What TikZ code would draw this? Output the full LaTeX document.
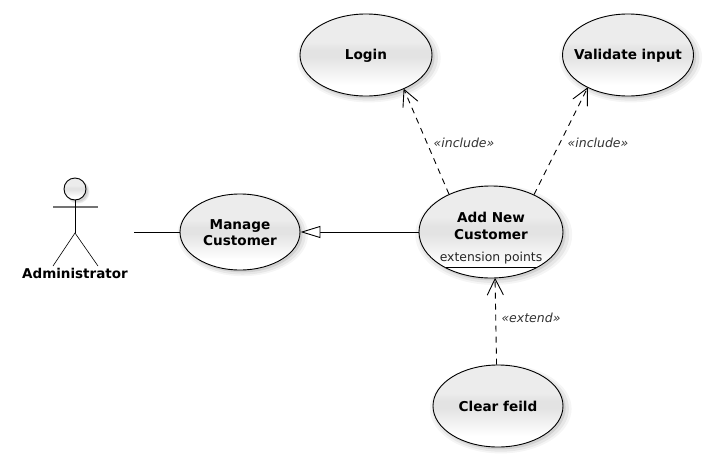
\documentclass[tikz,border=0pt]{standalone}
\usepackage{fontspec}
\setmainfont{DejaVu Sans}
\usetikzlibrary{shapes.geometric,arrows.meta,shadows}
\definecolor{ucmid}{gray}{0.89}
\definecolor{ucedge}{gray}{0.925}
\pgfdeclareverticalshading{ucfill}{100bp}{color(0bp)=(white);color(25bp)=(white);color(32bp)=(white);color(49bp)=(ucmid);color(53bp)=(ucmid);color(58bp)=(ucedge);color(75bp)=(ucedge);color(100bp)=(ucedge)}
\tikzset{
  softshadow/.style={
    general shadow={fill=black,opacity=.04,shadow xshift=2.5pt,shadow yshift=-2.5pt,shadow scale=1.09},
    general shadow={fill=black,opacity=.06,shadow xshift=2.5pt,shadow yshift=-2.5pt,shadow scale=1.05},
    general shadow={fill=black,opacity=.09,shadow xshift=2pt,shadow yshift=-2pt,shadow scale=1.01}},
  usecase/.style={ellipse,draw=black,line width=.9pt,inner sep=0pt,softshadow,shading=ucfill},
  uctext/.style={inner sep=0pt,align=center,yshift=-.7pt,font=\bfseries\fontsize{13.6}{16.5}\selectfont},
  note/.style={inner sep=0pt,font=\itshape\fontsize{12.5}{14}\selectfont,text=black!80},
  dep/.style={draw=black,line width=.9pt,dash pattern=on 6pt off 5pt,-{Straight Barb[length=16pt,width=16pt,line width=.9pt,round=false]}},
  plainline/.style={draw=black,line width=.9pt},
}
\begin{document}
\begin{tikzpicture}[x=1pt,y=-1pt]
\useasboundingbox (0,0) rectangle (706,463);
\node[usecase,minimum width=132pt,minimum height=82pt,label={[uctext]center:Login}] (login) at (366,55) {};
\node[usecase,minimum width=131pt,minimum height=82pt,label={[uctext]center:Validate input}] (validate) at (628,55) {};
\node[usecase,minimum width=120pt,minimum height=76pt,label={[uctext]center:Manage\\Customer}] (manage) at (240,232) {};
\node[usecase,minimum width=144pt,minimum height=92pt] (addnew) at (491,232) {};
\node[uctext] (addtext) at (491,225) {Add New\\Customer};
\node[inner sep=0pt,font=\fontsize{12.4}{14}\selectfont,text=black!85] (extpts) at (491,258) {extension points};
\node[usecase,minimum width=130pt,minimum height=82pt,label={[uctext]center:Clear feild}] (clear) at (498,406) {};
\coordinate (compL) at (445.5,267);
\coordinate (compR) at (536.5,267);
\draw[plainline] (compL) -- (compR);
% actor
\node[circle,draw=black,line width=.9pt,minimum size=22pt,inner sep=0pt,softshadow,shading=ucfill] (head) at (75,189) {};
\coordinate (armL) at (53,207);
\coordinate (armR) at (98,207);
\coordinate (hip) at (75,233);
\coordinate (footL) at (53,266);
\coordinate (footR) at (98,266);
\draw[draw=black!55,line width=1.5pt] (armL) -- (armR);
\draw[plainline] (head) -- (hip);
\draw[plainline,line width=.6pt] (footL) -- (hip) -- (footR);
\node[inner sep=0pt,font=\bfseries\fontsize{13.5}{16}\selectfont] (admin) at (75,273) {Administrator};
% connectors
\coordinate (assocstart) at (134,232);
\draw[plainline] (assocstart) -- (manage.west);
\draw[plainline,-{Triangle[open,length=20pt,width=12pt,fill=white,line width=.9pt]}] (addnew.west) -- (manage.east);
\draw[dep] (addnew.138.5) -- (login.-42);
\draw[dep] (addnew.41) -- (validate.219);
\draw[dep] (clear.92) -- (addnew.-85);
\node[note] (inc1) at (464,143) {«include»};
\node[note] (inc2) at (598,143) {«include»};
\node[note] (ext) at (531,318) {«extend»};
\end{tikzpicture}
\end{document}
